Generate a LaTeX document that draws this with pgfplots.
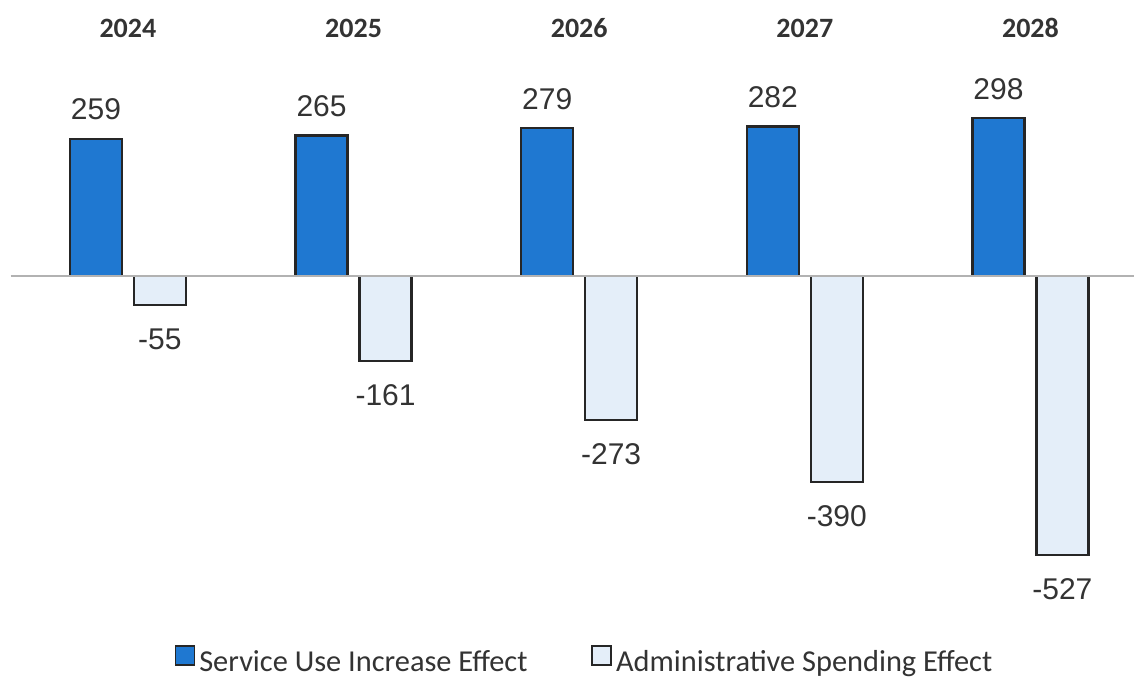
\documentclass[border=0pt]{standalone}
\usepackage{pgfplots}
\pgfplotsset{compat=1.18}
\usepackage{fontspec}
\setmainfont{Liberation Sans}
\newfontfamily\carlito{Carlito}
\definecolor{barblue}{HTML}{1F78D1}
\definecolor{barlight}{HTML}{E4EEF9}
\definecolor{edge}{HTML}{262626}
\definecolor{txt}{HTML}{333333}
\begin{document}
\begin{tikzpicture}
\begin{axis}[
  width=567.5pt, height=280pt, scale only axis,
  xmin=-0.567, xmax=4.461, ymin=-640, ymax=417,
  axis lines=none, clip=false,
  ybar, bar width=26pt,
  nodes near coords={\pgfmathfloattoint{\pgfplotspointmeta}\pgfmathresult},
  every node near coord/.append style={font=\fontsize{15}{17}\selectfont, text=txt, inner sep=0pt},
  legend columns=2,
  legend style={draw=none, at={(0.516,-0.084)}, anchor=center, font=\carlito\fontsize{15.2}{17}\selectfont, text=txt,
    /tikz/every even column/.append style={column sep=30pt}},
  legend image code/.code={\draw[#1, line width=0.9pt] (0pt,-1pt) rectangle (9.5pt,8.5pt);},
]
\addplot[fill=barblue, draw=edge, line width=1.1pt, bar shift=-16pt,
  every node near coord/.append style={anchor=south, yshift=8.7pt}]
  coordinates {(0,259) (1,265) (2,279) (3,282) (4,298)};
\addplot[fill=barlight, draw=edge, line width=1.1pt, bar shift=16pt,
  every node near coord/.append style={anchor=north, yshift=-11.2pt}]
  coordinates {(0,-55) (1,-161) (2,-273) (3,-390) (4,-527)};
\legend{Service Use Increase Effect, Administrative Spending Effect}
\draw[color=black!30, line width=0.8pt] (axis cs:-0.52,0) -- (axis cs:4.46,0);
\node[font=\carlito\bfseries\fontsize{14}{16}\selectfont, text=txt] at (axis cs:0,468) {2024};
\node[font=\carlito\bfseries\fontsize{14}{16}\selectfont, text=txt] at (axis cs:1,468) {2025};
\node[font=\carlito\bfseries\fontsize{14}{16}\selectfont, text=txt] at (axis cs:2,468) {2026};
\node[font=\carlito\bfseries\fontsize{14}{16}\selectfont, text=txt] at (axis cs:3,468) {2027};
\node[font=\carlito\bfseries\fontsize{14}{16}\selectfont, text=txt] at (axis cs:4,468) {2028};
\path (rel axis cs:0,-0.1125) rectangle (rel axis cs:1,1.0982);
\end{axis}
\end{tikzpicture}
\end{document}
